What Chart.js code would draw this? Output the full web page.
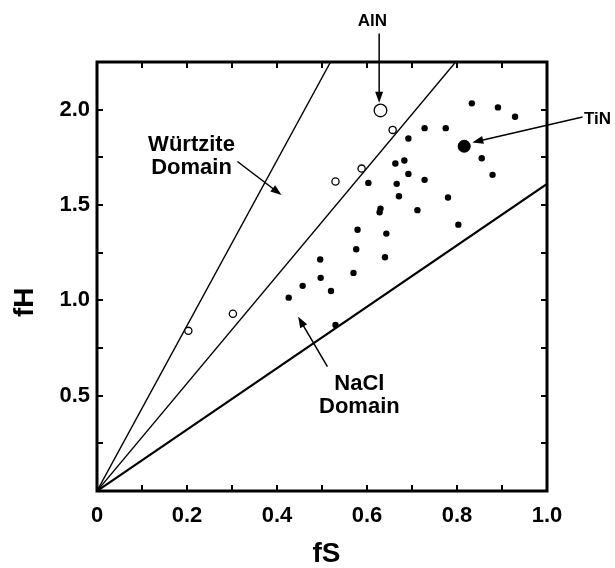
<!DOCTYPE html>
<html lang="en">
<head>
    <meta charset="UTF-8">
    <title>fH vs fS</title>
    <script src="https://cdn.jsdelivr.net/npm/chart.js"></script>
    <style>
        body {
            margin: 0;
            background: #fff;
        }
        canvas {
            display: block;
        }
    </style>
</head>
<body>
    <canvas id="domainChart" width="615" height="568"></canvas>
    <script>
        // filled dots (NaCl structure compounds)
        const filledS = [0.833, 0.891, 0.929, 0.728, 0.775, 0.692, 0.855, 0.879, 0.663, 0.683,
                         0.692, 0.728, 0.603, 0.666, 0.671, 0.780, 0.630, 0.628, 0.712, 0.803,
                         0.579, 0.643, 0.576, 0.640, 0.496, 0.497, 0.570, 0.457, 0.520, 0.426, 0.530];
        const filledH = [2.033, 2.012, 1.963, 1.903, 1.903, 1.849, 1.745, 1.658, 1.718, 1.733,
                         1.663, 1.632, 1.616, 1.611, 1.546, 1.539, 1.481, 1.462, 1.473, 1.397,
                         1.370, 1.350, 1.268, 1.226, 1.214, 1.118, 1.144, 1.076, 1.049, 1.014, 0.871];
        // open circles (wurtzite structure compounds)
        const openS = [0.203, 0.302, 0.530, 0.588, 0.657];
        const openH = [0.840, 0.930, 1.623, 1.691, 1.894];
        const tinPoint = [0.816, 1.808];
        const alnPoint = [0.630, 1.996];

        // domain boundary lines, from the origin
        const lineEndS = [0.519, 0.797, 1.0];
        const lineEndH = [2.25, 2.25, 1.61];

        const xTicks = [0, 0.2, 0.4, 0.6, 0.8, 1.0];
        const yTicks = [0.5, 1.0, 1.5, 2.0];

        const FONT = "'Liberation Sans', Arial, sans-serif";

        // text labels and arrows, placed in data units
        const notes = [
            { lines: ["AlN"], at: [0.612, 2.463], size: 17, arrow: [[0.627, 2.40], [0.627, 2.036]] },
            { lines: ["TiN"], at: [1.082, 1.950], size: 17, align: "left", arrow: [[1.079, 1.962], [0.834, 1.828]] },
            { lines: ["Würtzite", "Domain"], at: [0.210, 1.754], size: 22, arrow: [[0.312, 1.728], [0.410, 1.552]] },
            { lines: ["NaCl", "Domain"], at: [0.583, 0.503], size: 22, arrow: [[0.512, 0.652], [0.447, 0.914]] }
        ];

        const pts = (xs, ys) => xs.map((x, i) => ({ x: x, y: ys[i] }));

        function arrow(ctx, x1, y1, x2, y2) {
            const a = Math.atan2(y2 - y1, x2 - x1);
            const len = 11, half = 4;
            ctx.beginPath();
            ctx.moveTo(x1, y1);
            ctx.lineTo(x2 - Math.cos(a) * len * 0.8, y2 - Math.sin(a) * len * 0.8);
            ctx.stroke();
            ctx.beginPath();
            ctx.moveTo(x2, y2);
            ctx.lineTo(x2 - Math.cos(a) * len - Math.sin(a) * half, y2 - Math.sin(a) * len + Math.cos(a) * half);
            ctx.lineTo(x2 - Math.cos(a) * len + Math.sin(a) * half, y2 - Math.sin(a) * len - Math.cos(a) * half);
            ctx.closePath();
            ctx.fill();
        }

        const framePlugin = {
            id: "frame",
            afterDraw(chart) {
                const ctx = chart.ctx;
                const a = chart.chartArea;
                const xs = chart.scales.x, ys = chart.scales.y;
                ctx.save();
                ctx.strokeStyle = "#000";
                ctx.fillStyle = "#000";

                // inward ticks on all four sides
                ctx.lineWidth = 2;
                ctx.beginPath();
                for (let v = 0.1; v < 0.95; v += 0.1) {
                    const px = Math.round(xs.getPixelForValue(v));
                    ctx.moveTo(px, a.bottom); ctx.lineTo(px, a.bottom - 6);
                    ctx.moveTo(px, a.top); ctx.lineTo(px, a.top + 6);
                }
                for (let v = 0.25; v < 2.2; v += 0.25) {
                    const py = Math.round(ys.getPixelForValue(v));
                    ctx.moveTo(a.left, py); ctx.lineTo(a.left + 6, py);
                    ctx.moveTo(a.right, py); ctx.lineTo(a.right - 6, py);
                }
                ctx.stroke();

                ctx.lineWidth = 3;
                ctx.strokeRect(a.left, a.top, a.right - a.left, a.bottom - a.top);

                // axis titles
                ctx.font = "bold 28px " + FONT;
                ctx.textAlign = "center";
                ctx.textBaseline = "middle";
                ctx.fillText("fS", xs.getPixelForValue(0.51), a.bottom + 63);
                ctx.save();
                ctx.translate(25, ys.getPixelForValue(0.99));
                ctx.rotate(-Math.PI / 2);
                ctx.fillText("fH", 0, 0);
                ctx.restore();

                // annotations
                ctx.lineWidth = 1.5;
                notes.forEach(n => {
                    ctx.font = "bold " + n.size + "px " + FONT;
                    ctx.textAlign = n.align || "center";
                    const x = xs.getPixelForValue(n.at[0]);
                    const y = ys.getPixelForValue(n.at[1]);
                    const lh = n.size * 1.05;
                    n.lines.forEach((t, i) => {
                        ctx.fillText(t, x, y + (i - (n.lines.length - 1) / 2) * lh);
                    });
                    arrow(ctx,
                        xs.getPixelForValue(n.arrow[0][0]), ys.getPixelForValue(n.arrow[0][1]),
                        xs.getPixelForValue(n.arrow[1][0]), ys.getPixelForValue(n.arrow[1][1]));
                });
                ctx.restore();
            }
        };

        const lineSets = lineEndS.map((s, i) => ({
            type: "line",
            data: [{ x: 0, y: 0 }, { x: s, y: lineEndH[i] }],
            borderColor: "#000",
            borderWidth: i === 2 ? 2.2 : 1.4,
            pointRadius: 0,
            fill: false,
            order: 5
        }));

        const ctx = document.getElementById("domainChart").getContext("2d");
        const chart = new Chart(ctx, {
            type: "scatter",
            data: {
                datasets: [
                    ...lineSets,
                    {
                        data: pts(filledS, filledH),
                        backgroundColor: "#000",
                        borderColor: "#000",
                        borderWidth: 0,
                        pointRadius: 3.2,
                        order: 1
                    },
                    {
                        data: [{ x: tinPoint[0], y: tinPoint[1] }],
                        backgroundColor: "#000",
                        borderColor: "#000",
                        borderWidth: 0,
                        pointRadius: 6.5,
                        order: 1
                    },
                    {
                        data: pts(openS, openH),
                        backgroundColor: "#fff",
                        borderColor: "#000",
                        borderWidth: 1.3,
                        pointRadius: 3.6,
                        order: 1
                    },
                    {
                        data: [{ x: alnPoint[0], y: alnPoint[1] }],
                        backgroundColor: "#fff",
                        borderColor: "#000",
                        borderWidth: 1.3,
                        pointRadius: 6.3,
                        order: 1
                    }
                ]
            },
            options: {
                responsive: false,
                animation: false,
                layout: { padding: { top: 62, right: 68, left: 0, bottom: 0 } },
                plugins: {
                    legend: { display: false },
                    tooltip: { enabled: false }
                },
                scales: {
                    x: {
                        type: "linear",
                        min: 0,
                        max: 1.0,
                        afterFit: (s) => { s.height = 77; },
                        border: { display: false },
                        grid: { display: false, drawTicks: false },
                        ticks: {
                            stepSize: 0.2,
                            padding: 12,
                            color: "#000",
                            font: { family: FONT, size: 22, weight: "bold" },
                            callback: (v) => {
                                const hit = xTicks.find(t => Math.abs(t - v) < 1e-6);
                                if (hit === undefined) return "";
                                return hit === 0 ? "0" : hit.toFixed(1);
                            }
                        }
                    },
                    y: {
                        type: "linear",
                        min: 0,
                        max: 2.25,
                        afterFit: (s) => { s.width = 97; },
                        border: { display: false },
                        grid: { display: false, drawTicks: false },
                        ticks: {
                            stepSize: 0.25,
                            padding: 7,
                            color: "#000",
                            font: { family: FONT, size: 22, weight: "bold" },
                            callback: (v) => {
                                const hit = yTicks.find(t => Math.abs(t - v) < 1e-6);
                                return hit === undefined ? "" : hit.toFixed(1);
                            }
                        }
                    }
                }
            },
            plugins: [framePlugin]
        });
    </script>
</body>
</html>
